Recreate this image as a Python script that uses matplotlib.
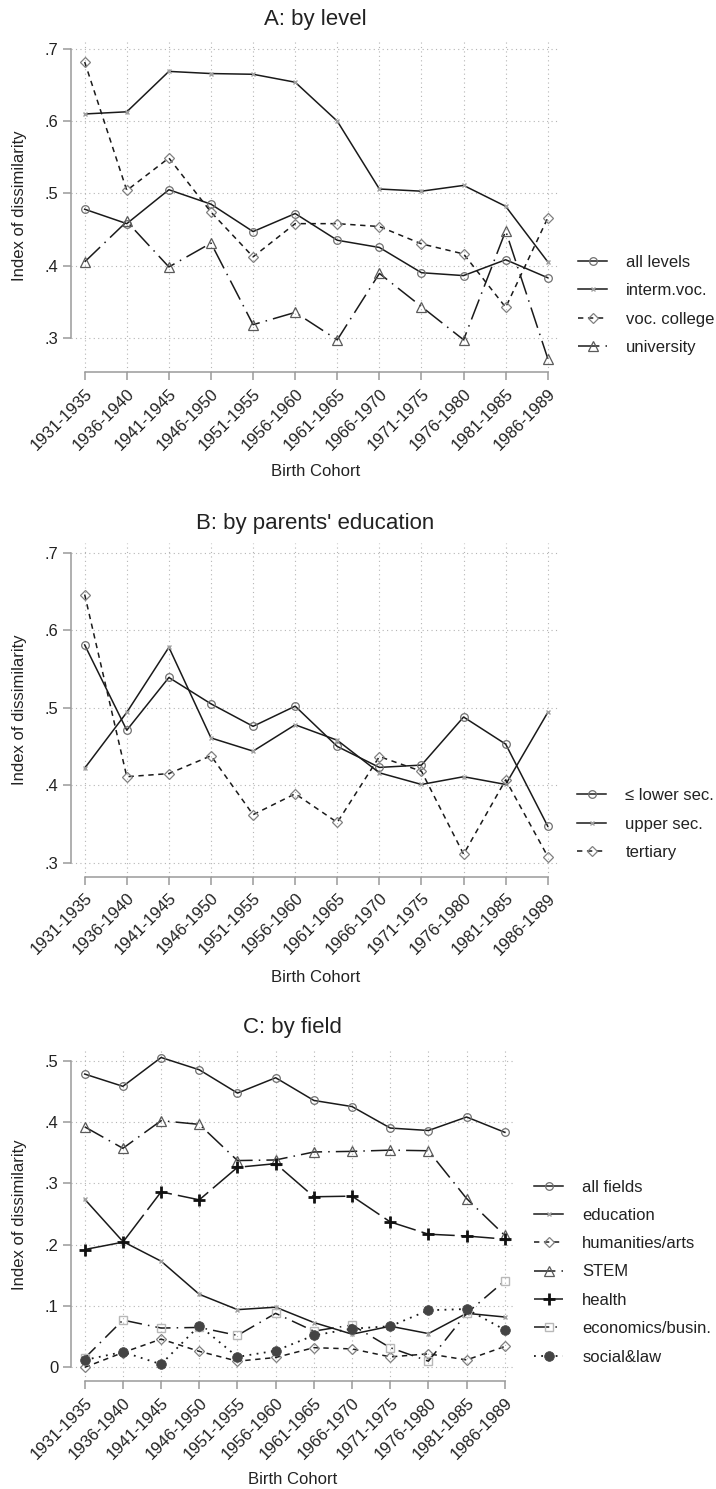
import matplotlib
matplotlib.use('Agg')
from matplotlib import pyplot as plt

plt.rcParams['font.family'] = ['Liberation Sans', 'DejaVu Sans']

# birth cohorts on the x axis
cohorts = ['1931-1935', '1936-1940', '1941-1945', '1946-1950', '1951-1955', '1956-1960',
           '1961-1965', '1966-1970', '1971-1975', '1976-1980', '1981-1985', '1986-1989']

# A: by level
all_levels = [.478, .458, .505, .485, .447, .472, .435, .425, .390, .386, .408, .383]
interm_voc = [.610, .613, .669, .666, .665, .654, .600, .506, .503, .511, .482, .405]
voc_college = [.682, .504, .549, .474, .412, .458, .458, .454, .430, .416, .342, .466]
university = [.405, .461, .398, .431, .318, .335, .297, .389, .343, .297, .448, .271]

# B: by parents' education
lower_sec = [.581, .471, .539, .505, .476, .502, .450, .423, .426, .488, .453, .347]
upper_sec = [.422, .494, .578, .461, .444, .478, .458, .416, .401, .411, .401, .494]
tertiary = [.646, .411, .415, .438, .362, .389, .352, .437, .418, .311, .407, .308]

# C: by field
all_fields = [.478, .458, .505, .485, .447, .472, .435, .425, .390, .386, .408, .383]
education = [.274, .205, .173, .119, .094, .098, .073, .054, .067, .055, .088, .082]
humanities = [.000, .024, .046, .026, .010, .016, .032, .030, .017, .022, .012, .034]
stem = [.392, .357, .402, .396, .337, .338, .351, .352, .354, .353, .275, .215]
health = [.192, .204, .286, .273, .326, .332, .278, .279, .237, .217, .214, .209]
economics = [.015, .077, .064, .065, .052, .088, .059, .069, .032, .010, .088, .141]
social_law = [.012, .025, .005, .068, .017, .027, .052, .063, .067, .093, .095, .061]

W, H = 716, 1489
LINE = '#1a1a1a'
AXIS = '#9a9a9a'
TEXT = '#222222'

# line / marker styles
s_circle = dict(color=LINE, lw=1.1, ls='-', marker='o', ms=5.5, mfc='none', mec='#707070', mew=0.9)
s_x = dict(color=LINE, lw=1.1, ls='-', marker='x', ms=3.2, mec='#a0a0a0', mew=1.0)
s_diamond = dict(color=LINE, lw=1.1, ls=(0, (3.5, 3)), marker='D', ms=5, mfc='none', mec='#808080', mew=0.9)
s_triangle = dict(color=LINE, lw=1.1, ls=(0, (14, 4, 1, 4)), marker='^', ms=6.5, mfc='none', mec='#5a5a5a', mew=0.9)
s_plus = dict(color=LINE, lw=1.1, ls=(0, (22, 4)), marker='+', ms=8, mec='#111111', mew=2.0)
s_square = dict(color=LINE, lw=1.1, ls=(0, (10, 4, 1, 4)), marker='s', ms=5.5, mfc='none', mec='#b8b8b8', mew=1.0)
s_dot = dict(color=LINE, lw=1.3, ls=(0, (1, 3)), marker='o', ms=7, mfc='#444444', mec='#444444', mew=0.5)


def rect(left, top, right, bottom):
    return [left / W, 1 - bottom / H, (right - left) / W, (bottom - top) / H]


def panel(box, xlim, ylim, yticks, ylabels, series, title, title_y, xlabel_y,
          leg_x, leg_y):
    ax = fig.add_axes(rect(*box))
    x = list(range(len(cohorts)))
    for vals, style, lab in series:
        ax.plot(x, vals, label=lab, **style)
    ax.set_xlim(*xlim)
    ax.set_ylim(*ylim)
    ax.set_xticks(x)
    ax.set_xticklabels(cohorts, rotation=45, ha='right', rotation_mode='anchor', fontsize=12, color=TEXT)
    ax.set_yticks(yticks)
    ax.set_yticklabels(ylabels, fontsize=12, color=TEXT)
    ax.tick_params(axis='both', color=AXIS, length=6, width=1.1)
    ax.tick_params(axis='x', pad=4)
    ax.tick_params(axis='y', pad=3)
    for s in ['top', 'right']:
        ax.spines[s].set_visible(False)
    for s in ['left', 'bottom']:
        ax.spines[s].set_color(AXIS)
        ax.spines[s].set_linewidth(1.1)
    ax.spines['left'].set_bounds(yticks[0], yticks[-1])
    ax.spines['bottom'].set_bounds(0, len(cohorts) - 1)
    ax.grid(True, color='#b5b5b5', ls=(0, (1, 3)), lw=0.8)
    ax.set_axisbelow(True)
    ax.set_facecolor('white')
    cx = (box[0] + box[2]) / 2
    cy = (box[1] + box[3]) / 2
    fig.text(cx / W, 1 - title_y / H, title, ha='center', va='center', fontsize=16, color=TEXT)
    fig.text(cx / W, 1 - xlabel_y / H, 'Birth Cohort', ha='center', va='center', fontsize=12, color=TEXT)
    fig.text(20 / W, 1 - cy / H, 'Index of dissimilarity', rotation=90, ha='center', va='center',
             fontsize=12, color=TEXT)
    leg = ax.legend(loc='center left', bbox_to_anchor=(leg_x / W, 1 - leg_y / H),
                    bbox_transform=fig.transFigure, frameon=False, fontsize=12,
                    handlelength=1.75, handletextpad=1.15, labelspacing=0.8,
                    borderpad=0, borderaxespad=0)
    for t in leg.get_texts():
        t.set_color(TEXT)
    return ax


fig = plt.figure(figsize=(W / 100, H / 100), dpi=100)

panel((71, 40, 560, 372.3), (-0.325, 11.29), (.252, .7125),
      [.3, .4, .5, .6, .7], ['.3', '.4', '.5', '.6', '.7'],
      [(all_levels, s_circle, 'all levels'),
       (interm_voc, s_x, 'interm.voc.'),
       (voc_college, s_diamond, 'voc. college'),
       (university, s_triangle, 'university')],
      'A: by level', 20, 472, 578, 305)

panel((71, 543, 560, 876.7), (-0.325, 11.29), (.282, .7125),
      [.3, .4, .5, .6, .7], ['.3', '.4', '.5', '.6', '.7'],
      [(lower_sec, s_circle, '≤ lower sec.'),
       (upper_sec, s_x, 'upper sec.'),
       (tertiary, s_diamond, 'tertiary')],
      "B: by parents' education", 523, 977, 577, 824)

panel((71, 1048.3, 514, 1381.3), (-0.359, 11.24), (-.0228, .520),
      [0, .1, .2, .3, .4, .5], ['0', '.1', '.2', '.3', '.4', '.5'],
      [(all_fields, s_circle, 'all fields'),
       (education, s_x, 'education'),
       (humanities, s_diamond, 'humanities/arts'),
       (stem, s_triangle, 'STEM'),
       (health, s_plus, 'health'),
       (economics, s_square, 'economics/busin.'),
       (social_law, s_dot, 'social&law')],
      'C: by field', 1027, 1480, 534, 1272)

plt.savefig('out.png', dpi=100)
